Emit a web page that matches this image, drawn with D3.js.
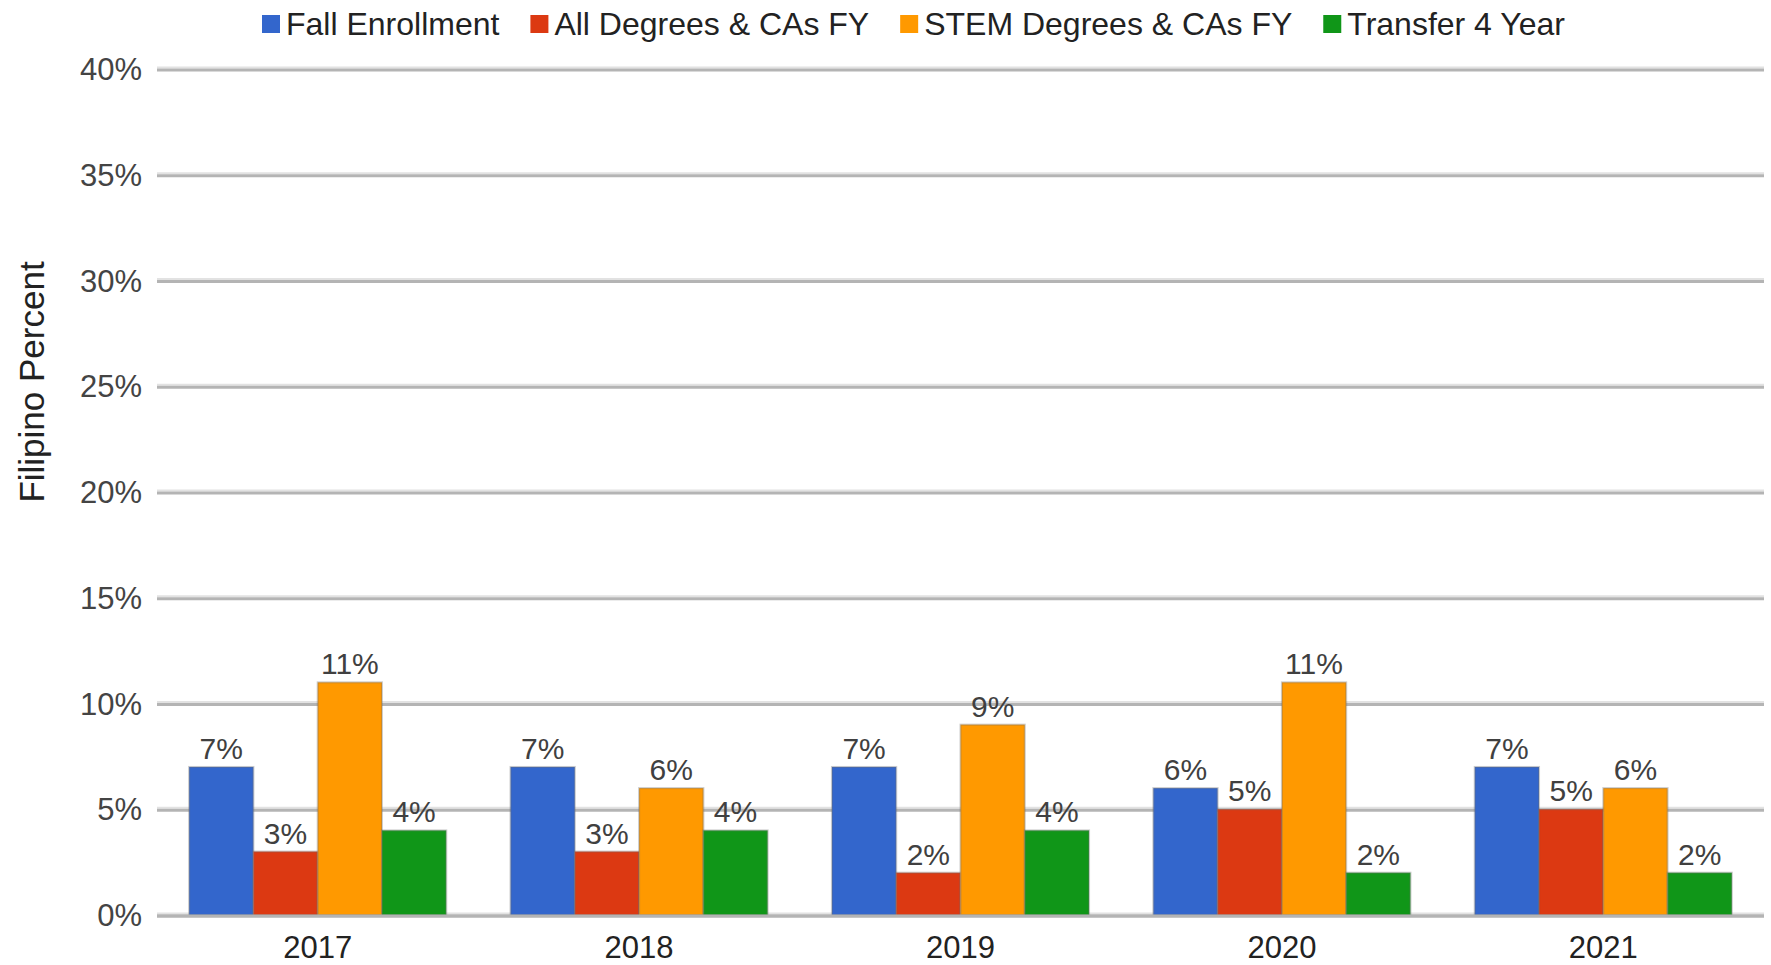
<!DOCTYPE html>
<html>
<head>
<meta charset="utf-8">
<script src="https://cdn.jsdelivr.net/npm/d3@7"></script>
<style>
  html, body { margin: 0; padding: 0; background: #fff; }
  svg { display: block; font-family: "Liberation Sans", Arial, sans-serif; }
</style>
</head>
<body>
<svg id="chart" width="1771" height="965"></svg>
<script>
// Years on the x axis
const years = ["2017", "2018", "2019", "2020", "2021"];

// Series names and values (percent of Filipino students)
const seriesNames = ["Fall Enrollment", "All Degrees & CAs FY", "STEM Degrees & CAs FY", "Transfer 4 Year"];
const fallEnrollment = [7, 7, 7, 6, 7];
const allDegrees = [3, 3, 2, 5, 5];
const stemDegrees = [11, 6, 9, 11, 6];
const transfer4Year = [4, 4, 4, 2, 2];
const seriesColors = ["#3366cc", "#dc3912", "#ff9900", "#109618"];

// Y axis ticks
const yTicks = [0, 5, 10, 15, 20, 25, 30, 35, 40];
const yTitle = "Filipino Percent";

const seriesValues = [fallEnrollment, allDegrees, stemDegrees, transfer4Year];

const svg = d3.select("#chart");
const plotLeft = 157, plotRight = 1764, plotTop = 69, plotBottom = 915;

const x0 = d3.scaleBand().domain(years).range([plotLeft, plotRight]).paddingInner(0.2).paddingOuter(0.1);
const x1 = d3.scaleBand().domain(seriesNames).range([0, x0.bandwidth()]);
const y = d3.scaleLinear().domain([0, 40]).range([plotBottom, plotTop]);

// Horizontal gridlines
const grid = svg.append("g");
grid.selectAll("line.g1").data(yTicks).join("line")
  .attr("x1", plotLeft).attr("x2", plotRight)
  .attr("y1", d => y(d) - 1.5).attr("y2", d => y(d) - 1.5)
  .attr("stroke", "#e2e2e2").attr("stroke-width", 2);
grid.selectAll("line.g2").data(yTicks).join("line")
  .attr("x1", plotLeft).attr("x2", plotRight)
  .attr("y1", d => y(d) + 1).attr("y2", d => y(d) + 1)
  .attr("stroke", "#b4b4b4").attr("stroke-width", 3);

// Y tick labels
svg.append("g").selectAll("text").data(yTicks).join("text")
  .attr("x", 142).attr("y", d => y(d))
  .attr("dy", "0.36em")
  .attr("text-anchor", "end")
  .attr("font-size", 31)
  .attr("fill", "#444")
  .text(d => d + "%");

// Y axis title
svg.append("text")
  .attr("transform", "translate(44,382) rotate(-90)")
  .attr("text-anchor", "middle")
  .attr("font-size", 35)
  .attr("fill", "#222")
  .text(yTitle);

// Bars and value labels
const groups = svg.append("g").selectAll("g").data(years).join("g")
  .attr("transform", d => `translate(${x0(d)},0)`);

groups.each(function(year, yi) {
  const g = d3.select(this);
  seriesNames.forEach((name, si) => {
    const v = seriesValues[si][yi];
    g.append("rect")
      .attr("x", x1(name)).attr("y", y(v))
      .attr("width", x1.bandwidth()).attr("height", y(0) - y(v))
      .attr("fill", seriesColors[si])
      .attr("stroke", "rgba(110,110,110,0.35)")
      .attr("stroke-width", 2);
    g.append("text")
      .attr("x", x1(name) + x1.bandwidth() / 2)
      .attr("y", y(v) - 8)
      .attr("text-anchor", "middle")
      .attr("font-size", 30)
      .attr("fill", "#404040")
      .text(v + "%");
  });
});

// Baseline over the bar bottoms
svg.append("line")
  .attr("x1", plotLeft).attr("x2", plotRight)
  .attr("y1", y(0) + 1).attr("y2", y(0) + 1)
  .attr("stroke", "#b4b4b4").attr("stroke-width", 3);

// X axis labels
svg.append("g").selectAll("text").data(years).join("text")
  .attr("x", d => x0(d) + x0.bandwidth() / 2)
  .attr("y", 958)
  .attr("text-anchor", "middle")
  .attr("font-size", 31)
  .attr("fill", "#222")
  .text(d => d);

// Legend
const legend = svg.append("g");
let lx = 262;
seriesNames.forEach((name, i) => {
  legend.append("rect")
    .attr("x", lx).attr("y", 15).attr("width", 18).attr("height", 18)
    .attr("fill", seriesColors[i]);
  const t = legend.append("text")
    .attr("x", lx + 24).attr("y", 35)
    .attr("font-size", 32)
    .attr("fill", "#222")
    .text(name);
  lx += 24 + t.node().getComputedTextLength() + 31;
});
</script>
</body>
</html>
